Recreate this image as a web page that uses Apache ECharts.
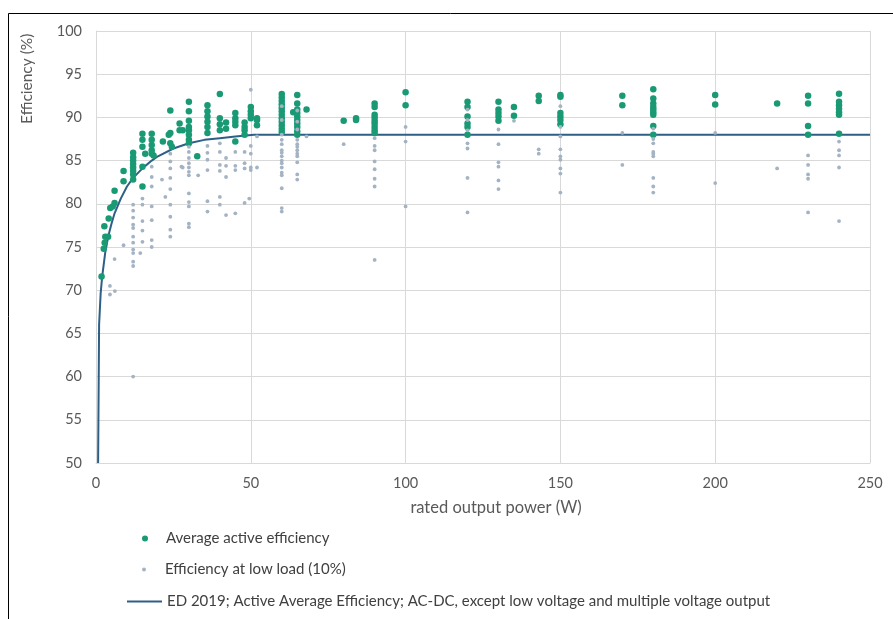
<!DOCTYPE html>
<html>
<head>
<meta charset="utf-8">
<script src="https://cdn.jsdelivr.net/npm/echarts@6/dist/echarts.min.js"></script>
<style>
html,body{margin:0;padding:0;background:#fff;}
#chart{width:893px;height:619px;}
</style>
</head>
<body>
<div id="chart"></div>
<script>
// ---- data ----
const xTicks = [0, 50, 100, 150, 200, 250];
const yTicks = [50, 55, 60, 65, 70, 75, 80, 85, 90, 95, 100];

const seriesNames = [
  'Average active efficiency',
  'Efficiency at low load (10%)',
  'ED 2019; Active Average Efficiency; AC-DC, except low voltage and multiple voltage output'
];

// [rated power W, efficiency %]
const activePoints = [
  [1.8,71.6],[2.5,74.8],[2.8,75.5],[3.0,76.2],[2.7,77.4],[3.9,76.2],[4.1,78.3],[4.6,79.5],[5.4,79.7],[6.0,80.1],[6.0,81.5],[8.9,82.6],[8.9,83.8],
  [12,85.9],[12,85.4],[12,85.0],[12,84.6],[12,84.2],[12,83.8],[12,83.4],[12,82.8],
  [15,82.0],[15,88.1],[15,86.6],[15,84.3],[15,87.4],[15.9,85.8],[18,88.1],[18,87.4],[18,86.8],[18,86.2],[18,85.8],[18.6,85.6],
  [21.6,87.2],[23.5,88.0],[24,88.2],[24,87.0],[24,90.8],[24.5,86.6],[27,88.5],[27,89.3],[28,88.5],
  [30,91.8],[30,90.7],[30,89.6],[30,88.9],[30,88.5],[30,88.0],[30,87.4],[30,87.0],
  [32.7,85.5],
  [36,91.4],[36,90.7],[36,90.1],[36,89.5],[36,88.9],[36,88.2],
  [40,92.7],[40,89.9],[40,89.2],[40,88.5],[42,89.4],[42,88.7],
  [45,90.5],[45,89.9],[45,89.5],[45,89.1],[45,87.2],
  [48,89.4],[48,88.9],[48,88.5],[48,88.0],
  [50,91.2],[50,90.7],[50,90.3],[50,89.9],[52,89.7],[52,89.1],[52,89.9],
  [60,92.7],[60,92.3],[60,91.9],[60,91.5],[60,91.1],[60,90.7],[60,90.3],[60,89.9],[60,89.5],[60,89.1],[60,88.7],[60,88.3],
  [63.7,90.6],
  [65,92.6],[65,91.6],[65,90.9],[65,90.5],[65,90.1],[65,89.7],[65,89.3],[65,88.9],[65,88.4],[65,88.0],
  [68,90.9],[80,89.6],[84,89.9],[84,89.7],
  [90,91.6],[90,91.2],[90,90.3],[90,90.0],[90,89.6],[90,89.3],[90,88.9],[90,88.5],[90,88.2],
  [100,92.9],[100,91.4],
  [120,91.8],[120,91.2],[120,90.1],[120,89.3],[120,88.9],[120,88.0],
  [130,91.8],[130,90.9],[130,90.5],[130,90.1],[130,89.6],
  [135,91.2],[135,90.2],
  [143,92.5],[143,91.9],
  [150,92.6],[150,92.4],[150,90.5],[150,90.1],[150,89.7],[150,89.2],
  [170,92.5],[170,91.4],
  [180,93.25],[180,92.2],[180,91.6],[180,91.2],[180,90.9],[180,90.6],[180,90.3],[180,89.0],[180,88.0],
  [200,92.6],[200,91.5],[220,91.6],
  [230,92.5],[230,91.6],[230,89.0],[230,88.0],
  [240,92.75],[240,91.8],[240,91.4],[240,91.0],[240,90.6],[240,90.3],[240,88.1]
];

const lowLoadPoints = [
  [4.5,70.5],[4.5,69.5],[6.1,69.9],[12,60.0],[6.0,73.6],[8.9,75.2],
  [12,79.9],[12,79.2],[12,78.4],[12,77.6],[12,77.2],[12,76.2],[12,75.5],[12,74.7],[12,74.3],[12,73.3],[12,72.8],
  [14.3,74.3],
  [15,80.6],[15,79.9],[15,78.0],[15,76.9],[15,75.6],
  [18,84.3],[18,83.1],[18,82.0],[18,79.7],[18,78.1],[18,75.8],[18,75.0],
  [21.3,82.8],[22.4,80.8],
  [24,85.8],[24,84.9],[24,84.1],[24,83.0],[24,81.7],[24,79.9],[24,78.5],[24,77.0],[24,76.2],
  [27.6,84.3],[28,84.2],
  [30,86.6],[30,86.0],[30,85.3],[30,84.7],[30,84.2],[30,83.7],[30,83.3],[30,81.2],[30,80.2],[30,79.7],[30,77.7],[30,77.3],
  [33,83.3],
  [36,86.7],[36,85.9],[36,85.1],[36,83.9],[36,80.3],[36,79.1],
  [40,87.0],[40,86.0],[40,84.5],[40,83.8],[40,80.8],[40,79.9],
  [42,84.4],[42,85.3],[42,83.1],[42,78.7],
  [45,86.0],[45,84.4],[45,83.9],[45,78.9],
  [48,86.0],[48,84.7],[48,84.1],[48,80.1],
  [49.5,80.6],[50,93.2],[50,86.7],[50,85.8],[50,84.2],[50,83.9],[52,87.8],[52,84.2],
  [60,87.4],[60,86.9],[60,86.2],[60,85.9],[60,85.5],[60,85.0],[60,84.7],[60,84.2],[60,83.6],[60,83.3],[60,81.8],[60,79.5],[60,79.1],
  [60,91.3],[60,89.7],[60,88.0],
  [65,87.4],[65,86.9],[65,86.6],[65,86.2],[65,85.8],[65,85.5],[65,84.8],[65,83.4],[65,82.8],
  [65,90.8],[65,89.5],[65,88.6],
  [68,87.8],[80,86.9],
  [90,87.6],[90,86.7],[90,86.2],[90,84.9],[90,84.0],[90,82.9],[90,82.0],[90,73.5],
  [100,88.9],[100,87.2],[100,79.7],
  [120,90.9],[120,89.7],[120,88.5],[120,87.0],[120,86.4],[120,83.0],[120,79.0],
  [130,88.6],[130,86.9],[130,84.8],[130,84.3],[130,82.7],[130,81.7],
  [135,89.6],[143,86.3],[143,85.8],
  [150,91.3],[150,88.9],[150,87.8],[150,86.3],[150,85.5],[150,85.1],[150,84.1],[150,83.5],[150,81.3],
  [170,88.2],[170,84.5],
  [180,88.7],[180,87.5],[180,87.0],[180,86.0],[180,85.8],[180,85.5],[180,83.0],[180,82.0],[180,81.3],
  [200,88.2],[200,82.4],[220,84.1],
  [230,85.6],[230,84.5],[230,83.4],[230,82.9],[230,79.0],
  [240,87.2],[240,86.2],[240,85.6],[240,84.2],[240,78.0]
];

// limit curve, points
const limitPower = [0.68, 1, 1.5, 2, 3, 4, 5, 6, 8, 10, 12, 15, 18, 20, 25, 30, 35, 40, 45, 51, 250];
const limitEff   = [50, 66, 69.6, 71.6, 74.4, 76.3, 77.7, 78.9, 80.6, 82.0, 83.0, 84.1, 85.0, 85.5, 86.4, 87.0, 87.4, 87.6, 87.8, 88.0, 88.0];

// ---- chart ----
const FONT = 'Lato';
const chart = echarts.init(document.getElementById('chart'), null, {renderer: 'canvas'});
const gridColor = '#d9d9d9';
const textColor = '#595959';
const legendText = {color: '#404040', fontSize: 15, fontFamily: FONT};

chart.setOption({
  animation: false,
  backgroundColor: '#ffffff',
  textStyle: {fontFamily: FONT},
  grid: {left: 96, right: 23, top: 31, bottom: 156, containLabel: false},
  xAxis: {
    type: 'value', min: xTicks[0], max: xTicks[xTicks.length - 1], interval: 50,
    name: 'rated output power (W)', nameLocation: 'middle', nameGap: 36,
    nameTextStyle: {color: textColor, fontSize: 16.5, fontFamily: FONT, padding: [0, 0, 0, 26]},
    axisLine: {show: true, lineStyle: {color: gridColor, width: 1}},
    axisTick: {show: false},
    axisLabel: {color: textColor, fontSize: 14.5, margin: 13, fontFamily: FONT},
    splitLine: {show: true, lineStyle: {color: gridColor, width: 1}}
  },
  yAxis: {
    type: 'value', min: yTicks[0], max: yTicks[yTicks.length - 1], interval: 5,
    axisLine: {show: true, lineStyle: {color: gridColor, width: 1}},
    axisTick: {show: false},
    axisLabel: {color: textColor, fontSize: 14.5, margin: 14, fontFamily: FONT},
    splitLine: {show: true, lineStyle: {color: gridColor, width: 1}}
  },
  legend: [
    {data: [{name: seriesNames[0], icon: 'circle'}], orient: 'vertical', left: 142, top: 531, padding: 0,
     itemWidth: 32, itemHeight: 6, textStyle: legendText, selectedMode: false},
    {data: [{name: seriesNames[1], icon: 'circle'}], orient: 'vertical', left: 142, top: 562, padding: 0,
     itemWidth: 32, itemHeight: 4, textStyle: legendText, selectedMode: false},
    {data: [{name: seriesNames[2], icon: 'rect'}], orient: 'vertical', left: 127, top: 594, padding: 0,
     itemWidth: 35, itemHeight: 2, textStyle: legendText, selectedMode: false}
  ],
  series: [
    {
      name: seriesNames[2], type: 'line', z: 1, symbol: 'none', smooth: false,
      data: limitPower.map((p, i) => [p, limitEff[i]]),
      lineStyle: {color: '#2d5f87', width: 2},
      itemStyle: {color: '#2d5f87'}
    },
    {
      name: seriesNames[0], type: 'scatter', z: 2, symbol: 'circle', symbolSize: 6.5,
      data: activePoints,
      itemStyle: {color: '#1a9a74', opacity: 1}
    },
    {
      name: seriesNames[1], type: 'scatter', z: 3, symbol: 'circle', symbolSize: 3.8,
      data: lowLoadPoints,
      itemStyle: {color: '#a3b3c4', opacity: 1}
    }
  ],
  graphic: [
    {type: 'line', z: 100, shape: {x1: 8.5, y1: 13.5, x2: 893, y2: 13.5}, style: {stroke: '#000', lineWidth: 1}},
    {type: 'line', z: 100, shape: {x1: 8.5, y1: 13.5, x2: 8.5, y2: 619}, style: {stroke: '#000', lineWidth: 1}},
    {type: 'text', z: 100, x: 19, y: 124, rotation: Math.PI / 2,
     style: {text: 'Efficiency (%)', fill: textColor, fontSize: 15.5, fontFamily: FONT, textAlign: 'left', textVerticalAlign: 'top'}}
  ]
});
</script>
</body>
</html>
